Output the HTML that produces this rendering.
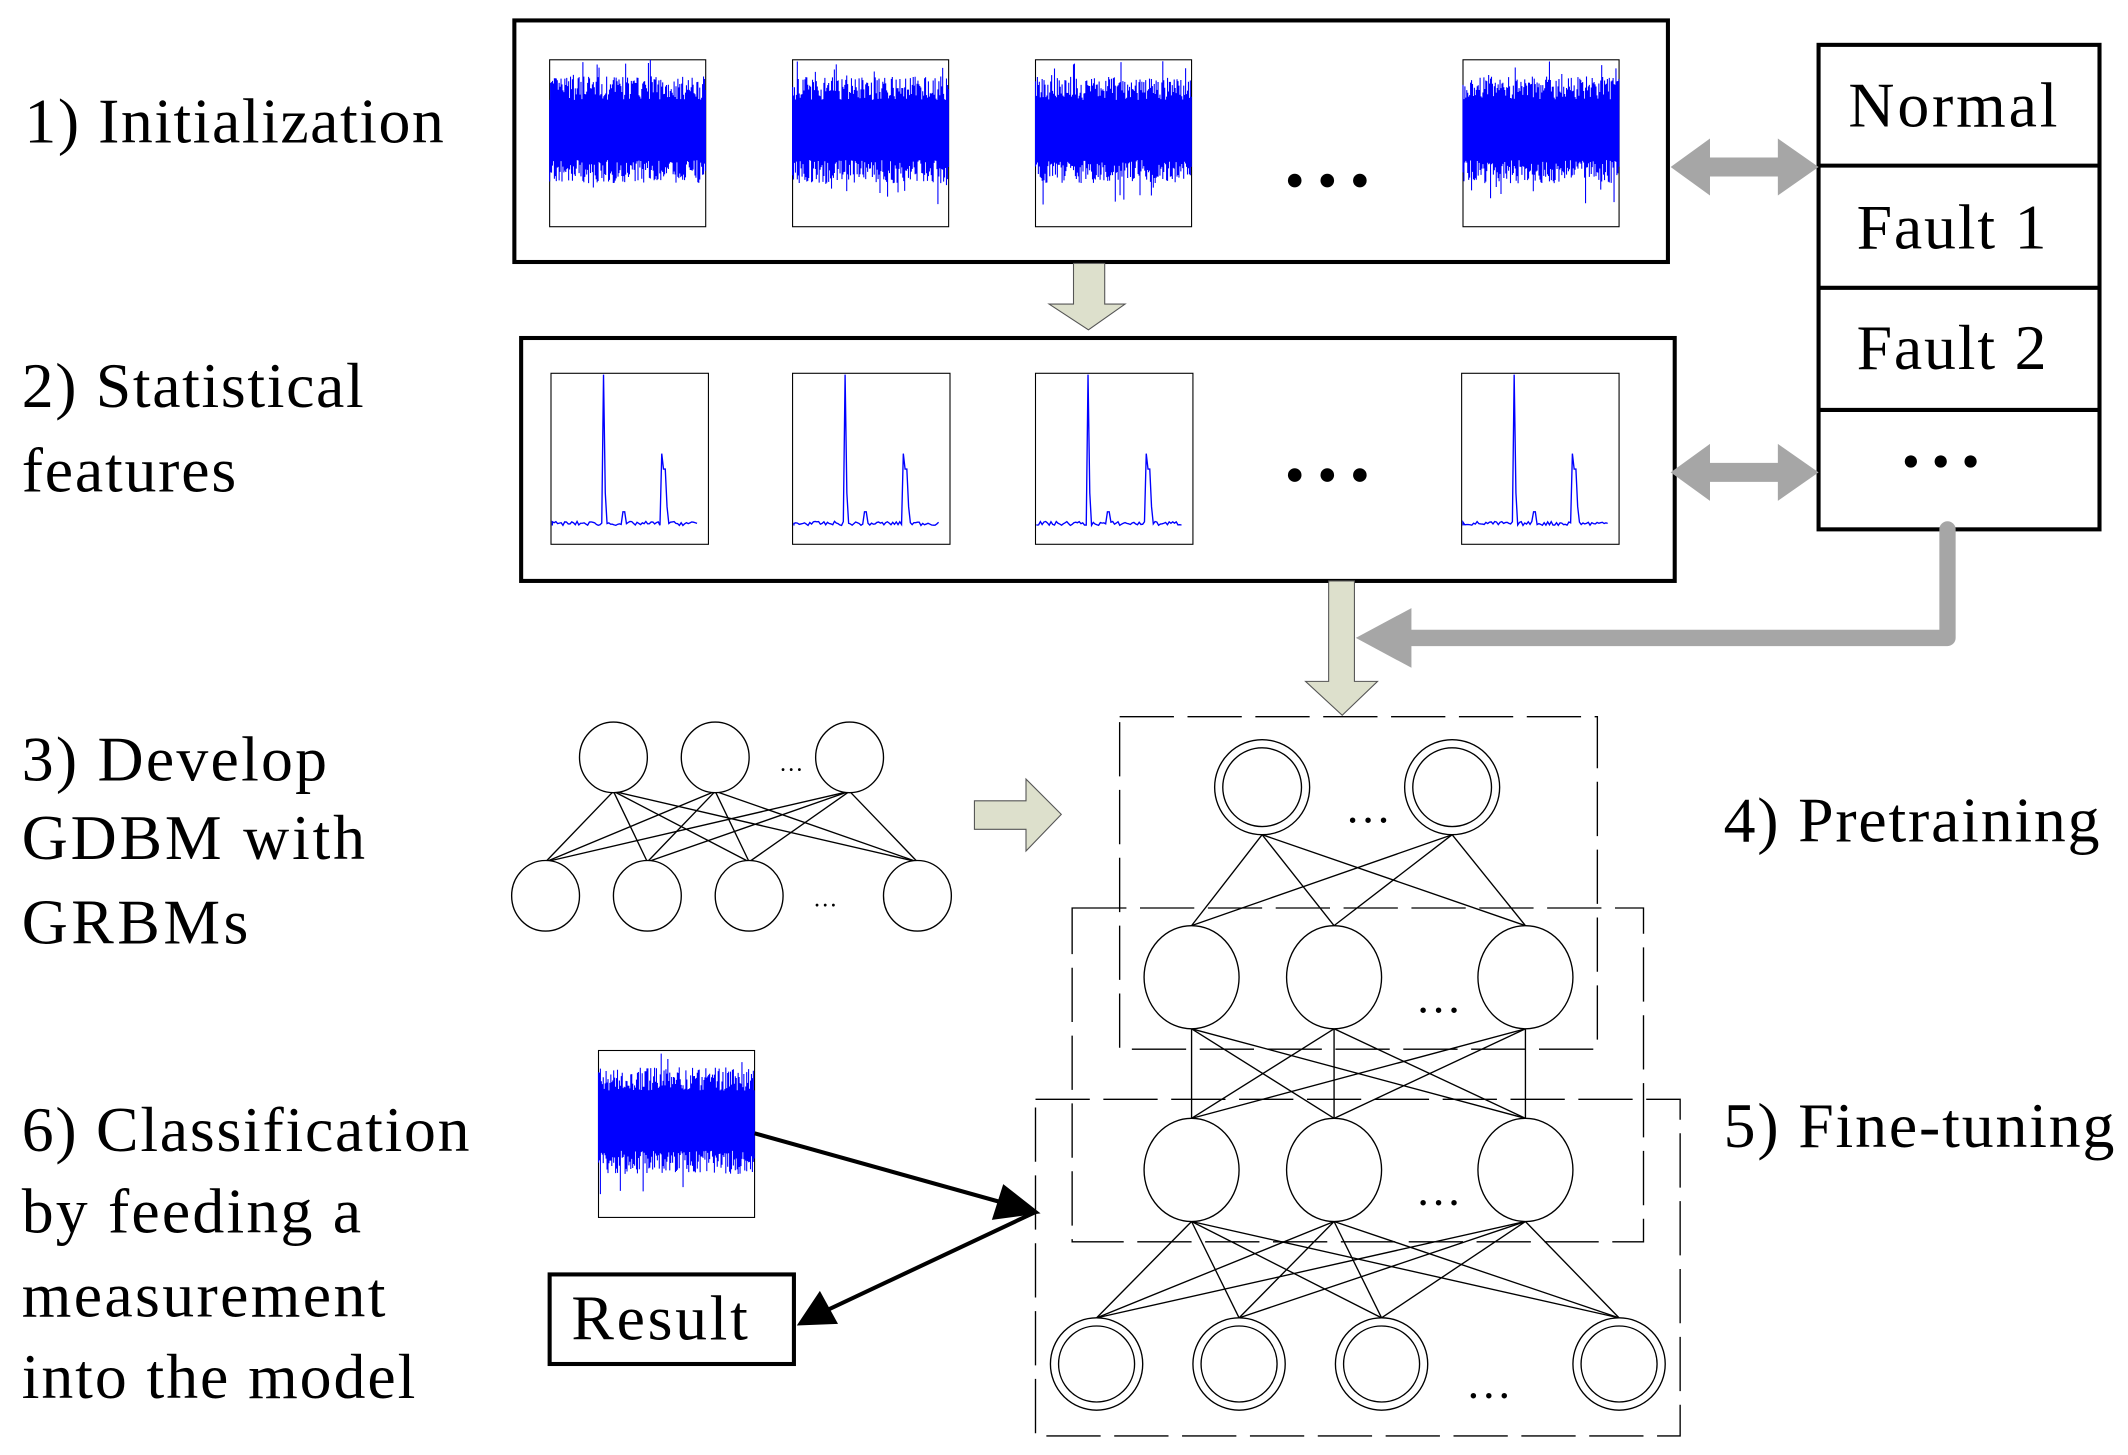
<!DOCTYPE html>
<html><head><meta charset="utf-8">
<style>
html,body{margin:0;padding:0;background:#fff;}
svg{display:block;}
text{font-family:"Liberation Serif","Times New Roman",serif;fill:#000;}
</style></head>
<body>
<svg id="s" width="2128" height="1455" viewBox="0 0 1568 1072" xmlns="http://www.w3.org/2000/svg">
<rect width="1568" height="1072" fill="#fff"/>
<text x="18" y="105" font-size="47" textLength="309">1) Initialization</text>
<text x="16" y="300" font-size="47" textLength="252">2) Statistical</text>
<text x="16" y="362" font-size="47" textLength="158">features</text>
<text x="16" y="575" font-size="47" textLength="225">3) Develop</text>
<text x="16" y="633" font-size="47" textLength="253">GDBM with</text>
<text x="16" y="695" font-size="47" textLength="167">GRBMs</text>
<text x="1270" y="620" font-size="47" textLength="277">4) Pretraining</text>
<text x="1270" y="845" font-size="47" textLength="288">5) Fine-tuning</text>
<text x="16" y="848" font-size="47" textLength="330">6) Classification</text>
<text x="16" y="908" font-size="47" textLength="250">by feeding a</text>
<text x="16" y="970" font-size="47" textLength="268">measurement</text>
<text x="16" y="1030" font-size="47" textLength="290">into the model</text>

<rect x="379" y="15" width="850" height="178" fill="none" stroke="#000" stroke-width="3"/>
<rect x="384" y="249" width="850" height="179" fill="none" stroke="#000" stroke-width="3"/>
<g id="plots"></g>
<g fill="#000">
<circle cx="954" cy="133" r="5"/><circle cx="978" cy="133" r="5"/><circle cx="1002" cy="133" r="5"/>
<circle cx="954" cy="350" r="5"/><circle cx="978" cy="350" r="5"/><circle cx="1002" cy="350" r="5"/>
<circle cx="1408" cy="340" r="4.5"/><circle cx="1430" cy="340" r="4.5"/><circle cx="1452" cy="340" r="4.5"/>
</g>

<rect x="1340" y="33" width="207" height="357" fill="none" stroke="#000" stroke-width="3"/>
<line x1="1340" y1="122" x2="1547" y2="122" stroke="#000" stroke-width="3"/>
<line x1="1340" y1="212" x2="1547" y2="212" stroke="#000" stroke-width="3"/>
<line x1="1340" y1="302" x2="1547" y2="302" stroke="#000" stroke-width="3"/>
<text x="1362" y="93" font-size="47" textLength="154">Normal</text>
<text x="1368" y="183" font-size="47" textLength="140">Fault 1</text>
<text x="1368" y="272" font-size="47" textLength="140">Fault 2</text>

<g fill="#a6a6a6">
<polygon points="1231,123 1260,102 1260,116 1310,116 1310,102 1340,123 1310,144 1310,130 1260,130 1260,144"/>
<polygon points="1231,348 1260,327 1260,341 1310,341 1310,327 1340,348 1310,369 1310,355 1260,355 1260,369"/>
<polygon points="999,470 1040,448 1040,492"/>
</g>
<polyline points="1435,390 1435,470 1038,470" fill="none" stroke="#a6a6a6" stroke-width="12" stroke-linejoin="round" stroke-linecap="round"/>

<g fill="#dde0cc" stroke="#555" stroke-width="0.8">
<polygon points="791,194 814,194 814,224 829,224 802,243 773,224 791,224"/>
<polygon points="979,428 998,428 998,502 1015,502 989,527 962,502 979,502"/>
<polygon points="718,590 756,590 756,574 782,600 756,627 756,611 718,611"/>
</g>

<g fill="none" stroke="#000" stroke-width="1" stroke-dasharray="40,10">
<rect x="825" y="528" width="352" height="245"/>
<rect x="790" y="669" width="421" height="246"/>
<rect x="763" y="810" width="475" height="248"/>
</g>
<g id="net" stroke="#000" fill="none" stroke-width="1"></g>
<text x="1008" y="606" font-size="34" text-anchor="middle">…</text>
<text x="1060" y="746" font-size="34" text-anchor="middle">…</text>
<text x="1060" y="888" font-size="34" text-anchor="middle">…</text>
<text x="1097" y="1030" font-size="34" text-anchor="middle">…</text>
<text x="583" y="568" font-size="18" text-anchor="middle">…</text>
<text x="608" y="668" font-size="18" text-anchor="middle">…</text>

<rect x="405" y="939" width="180" height="66" fill="none" stroke="#000" stroke-width="3"/>
<text x="421" y="987" font-size="47" textLength="130">Result</text>
<g stroke="#000" stroke-width="3" fill="#000">
<line x1="556" y1="835" x2="742" y2="887"/>
<polygon points="763,893 733,897 740,875"/>
<line x1="763" y1="893" x2="608" y2="966"/>
<polygon points="590,975 604,954 615,974"/>
</g>
</svg>
<script>
(function(){
var NS="http://www.w3.org/2000/svg";
function el(p,t,a){var e=document.createElementNS(NS,t);for(var k in a)e.setAttribute(k,a[k]);p.appendChild(e);return e;}
var seed=7;function rnd(){seed=(seed*16807)%2147483647;return seed/2147483647;}
var P=document.getElementById("plots");
function noise(x,y,w,h){
 el(P,"rect",{x:x,y:y,width:w,height:h,fill:"none",stroke:"#000","stroke-width":0.8});
 var d="",cy=y+h*0.42;
 for(var i=0;i<w;i+=0.7){
  var a=h*(0.18+rnd()*0.14),b=h*(0.18+rnd()*0.14);
  if(rnd()<0.04)a=h*(0.3+rnd()*0.12);
  if(rnd()<0.04)b=h*(0.3+rnd()*0.15);
  d+="M"+(x+i).toFixed(1)+" "+(cy-a).toFixed(1)+"V"+(cy+b).toFixed(1);
 }
 el(P,"path",{d:d,stroke:"#0000ff","stroke-width":0.8,fill:"none"});
 el(P,"rect",{x:x,y:cy-h*0.17,width:w,height:h*0.34,fill:"#0000ff"});
}
function spec(x,y,w,h){
 el(P,"rect",{x:x,y:y,width:w,height:h,fill:"none",stroke:"#000","stroke-width":0.8});
 var base=y+h*0.89,d="M"+(x+1)+" "+base;
 for(var i=1;i<w*0.93;i+=1.3){
  var v=base-rnd()*3;
  var f=i/w;
  if(Math.abs(f-0.335)<0.006)v=y+1;
  else if(Math.abs(f-0.345)<0.01)v=y+h*0.7;
  else if(Math.abs(f-0.7)<0.006)v=y+h*0.47;
  else if(Math.abs(f-0.72)<0.008)v=y+h*0.56;
  else if(Math.abs(f-0.73)<0.012)v=y+h*0.78;
  else if(Math.abs(f-0.46)<0.01)v=base-10;
  d+="L"+(x+i).toFixed(1)+" "+v.toFixed(1);
 }
 el(P,"path",{d:d,stroke:"#0000ff","stroke-width":1,fill:"none"});
}
[405,584,763,1078].forEach(function(x){noise(x,44,115,123);});
noise(441,774,115,123);
[406,584,763,1077].forEach(function(x){spec(x,275,116,126);});
var N=document.getElementById("net");
function ln(a,b){el(N,"line",{x1:a[0],y1:a[1],x2:b[0],y2:b[1]});}
var T1=[[930,580],[1070,580]],L2=[[878,720],[983,720],[1124,720]],L3=[[878,862],[983,862],[1124,862]],B1=[[808,1005],[913,1005],[1018,1005],[1193,1005]];
T1.forEach(function(a){L2.forEach(function(b){ln([a[0],a[1]+35],[b[0],b[1]-38]);});});
L2.forEach(function(a){L3.forEach(function(b){ln([a[0],a[1]+38],[b[0],b[1]-38]);});});
L3.forEach(function(a){B1.forEach(function(b){ln([a[0],a[1]+38],[b[0],b[1]-34]);});});
T1.forEach(function(c){el(N,"ellipse",{cx:c[0],cy:c[1],rx:35,ry:35,fill:"#fff"});el(N,"ellipse",{cx:c[0],cy:c[1],rx:29,ry:29});});
L2.concat(L3).forEach(function(c){el(N,"ellipse",{cx:c[0],cy:c[1],rx:35,ry:38,fill:"#fff"});});
B1.forEach(function(c){el(N,"ellipse",{cx:c[0],cy:c[1],rx:34,ry:34,fill:"#fff"});el(N,"ellipse",{cx:c[0],cy:c[1],rx:28,ry:28});});
var st=[[452,558],[527,558],[626,558]],sb=[[402,660],[477,660],[552,660],[676,660]];
st.forEach(function(a){sb.forEach(function(b){ln([a[0],a[1]+25],[b[0],b[1]-25]);});});
st.concat(sb).forEach(function(c){el(N,"ellipse",{cx:c[0],cy:c[1],rx:25,ry:26,fill:"#fff"});});
})();
</script>
</body></html>
